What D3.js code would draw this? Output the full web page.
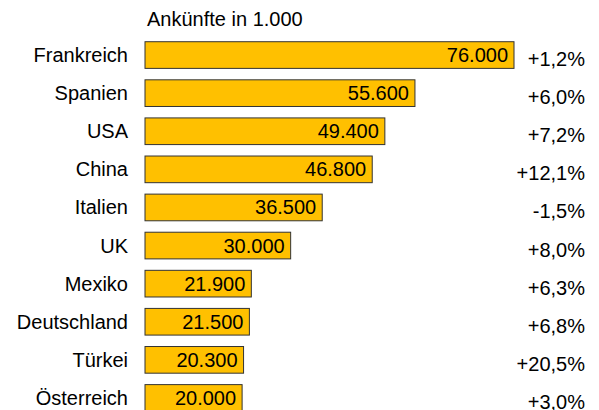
<!DOCTYPE html>
<html>
<head>
<meta charset="utf-8">
<script src="https://cdn.jsdelivr.net/npm/d3@7"></script>
<style>
  body { margin: 0; background: #fff; }
  text { font-family: "Liberation Sans", Arial, sans-serif; fill: #000; }
</style>
</head>
<body>
<div id="chart"></div>
<script>
// Ankünfte internationaler Touristen (in 1.000)
var countries = ["Frankreich", "Spanien", "USA", "China", "Italien", "UK", "Mexiko", "Deutschland", "Türkei", "Österreich"];
var arrivals = [76000, 55600, 49400, 46800, 36500, 30000, 21900, 21500, 20300, 20000];
var changes = ["+1,2%", "+6,0%", "+7,2%", "+12,1%", "-1,5%", "+8,0%", "+6,3%", "+6,8%", "+20,5%", "+3,0%"];

var width = 599, height = 410;
var fmt = d3.formatLocale({ decimal: ",", thousands: ".", grouping: [3], currency: ["", "€"] }).format(",.0f");

var svg = d3.select("#chart").append("svg")
    .attr("width", width)
    .attr("height", height);

var x = d3.scaleLinear().domain([0, 76000]).range([145, 514]);

var y = d3.scaleBand()
    .domain(countries)
    .range([36, 417])
    .paddingInner(0.3)
    .paddingOuter(0.15);

// title
svg.append("text")
    .attr("x", 147)
    .attr("y", 26)
    .attr("font-size", "20px")
    .text("Ankünfte in 1.000");

var rows = svg.selectAll(".row")
    .data(countries)
    .enter().append("g")
    .attr("class", "row");

rows.append("rect")
    .attr("x", x(0))
    .attr("y", function (d) { return y(d); })
    .attr("width", function (d, i) { return x(arrivals[i]) - x(0); })
    .attr("height", y.bandwidth())
    .attr("fill", "#ffc000")
    .attr("stroke", "#333")
    .attr("stroke-width", 1);

// country labels
rows.append("text")
    .attr("x", 128)
    .attr("y", function (d) { return y(d) + y.bandwidth() / 2; })
    .attr("dy", "0.35em")
    .attr("text-anchor", "end")
    .attr("font-size", "20px")
    .text(function (d) { return d; });

// values inside the bars
rows.append("text")
    .attr("x", function (d, i) { return x(arrivals[i]) - 6; })
    .attr("y", function (d) { return y(d) + y.bandwidth() / 2; })
    .attr("dy", "0.35em")
    .attr("text-anchor", "end")
    .attr("font-size", "20px")
    .text(function (d, i) { return fmt(arrivals[i]); });

// change vs previous year
rows.append("text")
    .attr("x", 585)
    .attr("y", function (d) { return y(d) + y.bandwidth() / 2 + 4; })
    .attr("dy", "0.35em")
    .attr("text-anchor", "end")
    .attr("font-size", "20px")
    .text(function (d, i) { return changes[i]; });
</script>
</body>
</html>
